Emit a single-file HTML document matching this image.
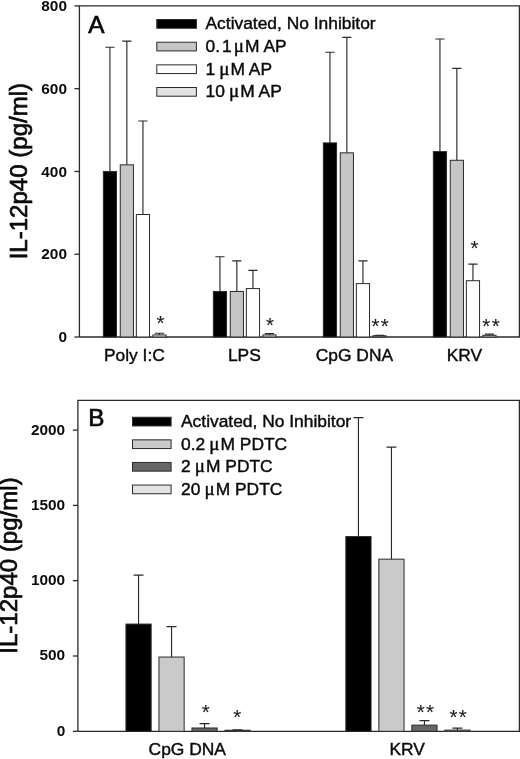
<!DOCTYPE html>
<html><head><meta charset="utf-8"><title>IL-12p40</title>
<style>html,body{margin:0;padding:0;background:#fff}svg{display:block;will-change:transform;transform:translateZ(0)}text{font-family:"Liberation Sans",sans-serif;fill:#0a0a0a;stroke:#0a0a0a;stroke-width:.42px}.yl{stroke-width:.7px}.st{stroke-width:.1px;fill:#1a1a1a}.b{font-weight:bold;stroke:none}.mu{font-family:"Liberation Serif",serif}</style>
</head><body>
<svg width="520" height="759" viewBox="0 0 520 759">
<rect width="520" height="759" fill="#fff"/>
<g stroke="#2a2a2a" stroke-width="1.3" fill="none">
<path d="M79.4 337.0V5.9H519.4V337.0"/>
<path d="M79.4 337.0H520.0"/>
<path d="M74.4 337.00H79.4"/>
<path d="M74.4 254.22H79.4"/>
<path d="M74.4 171.45H79.4"/>
<path d="M74.4 88.67H79.4"/>
<path d="M74.4 5.90H79.4"/>
</g>
<text class="b" x="67" y="342.20" font-size="15.4" text-anchor="end">0</text>
<text class="b" x="67" y="259.43" font-size="15.4" text-anchor="end">200</text>
<text class="b" x="67" y="176.65" font-size="15.4" text-anchor="end">400</text>
<text class="b" x="67" y="93.87" font-size="15.4" text-anchor="end">600</text>
<text class="b" x="67" y="11.10" font-size="15.4" text-anchor="end">800</text>
<path d="M109.95 171.45V47.29M105.35 47.29H114.55" stroke="#2a2a2a" stroke-width="1.15" fill="none"/>
<rect x="103.35" y="171.45" width="13.2" height="165.55" fill="#000" stroke="#2a2a2a" stroke-width="1"/>
<path d="M126.85 164.83V41.08M122.25 41.08H131.45" stroke="#2a2a2a" stroke-width="1.15" fill="none"/>
<rect x="120.25" y="164.83" width="13.2" height="172.17" fill="#c6c6c6" stroke="#2a2a2a" stroke-width="1"/>
<path d="M142.95 214.49V120.96M138.35 120.96H147.55" stroke="#2a2a2a" stroke-width="1.15" fill="none"/>
<rect x="136.35" y="214.49" width="13.2" height="122.51" fill="#fff" stroke="#2a2a2a" stroke-width="1"/>
<path d="M159.45 334.93V333.28M154.85 333.28H164.05" stroke="#2a2a2a" stroke-width="1.15" fill="none"/>
<rect x="152.85" y="334.93" width="13.2" height="2.07" fill="#e2e2e2" stroke="#2a2a2a" stroke-width="1"/>
<text x="160.5" y="329.7" class="st" font-size="20.5" text-anchor="middle">*</text>
<text x="134.40" y="360.8" font-size="17.4" text-anchor="middle">Poly I:C</text>
<path d="M219.95 291.47V256.71M215.35 256.71H224.55" stroke="#2a2a2a" stroke-width="1.15" fill="none"/>
<rect x="213.35" y="291.47" width="13.2" height="45.53" fill="#000" stroke="#2a2a2a" stroke-width="1"/>
<path d="M236.85 291.47V260.85M232.25 260.85H241.45" stroke="#2a2a2a" stroke-width="1.15" fill="none"/>
<rect x="230.25" y="291.47" width="13.2" height="45.53" fill="#c6c6c6" stroke="#2a2a2a" stroke-width="1"/>
<path d="M252.95 288.58V270.37M248.35 270.37H257.55" stroke="#2a2a2a" stroke-width="1.15" fill="none"/>
<rect x="246.35" y="288.58" width="13.2" height="48.42" fill="#fff" stroke="#2a2a2a" stroke-width="1"/>
<path d="M269.45 334.93V333.69M264.85 333.69H274.05" stroke="#2a2a2a" stroke-width="1.15" fill="none"/>
<rect x="262.85" y="334.93" width="13.2" height="2.07" fill="#e2e2e2" stroke="#2a2a2a" stroke-width="1"/>
<text x="270" y="331.9" class="st" font-size="20.5" text-anchor="middle">*</text>
<text x="244.40" y="360.8" font-size="17.4" text-anchor="middle">LPS</text>
<path d="M329.95 142.89V52.25M325.35 52.25H334.55" stroke="#2a2a2a" stroke-width="1.15" fill="none"/>
<rect x="323.35" y="142.89" width="13.2" height="194.11" fill="#000" stroke="#2a2a2a" stroke-width="1"/>
<path d="M346.85 152.83V37.35M342.25 37.35H351.45" stroke="#2a2a2a" stroke-width="1.15" fill="none"/>
<rect x="340.25" y="152.83" width="13.2" height="184.17" fill="#c6c6c6" stroke="#2a2a2a" stroke-width="1"/>
<path d="M362.95 283.61V260.85M358.35 260.85H367.55" stroke="#2a2a2a" stroke-width="1.15" fill="none"/>
<rect x="356.35" y="283.61" width="13.2" height="53.39" fill="#fff" stroke="#2a2a2a" stroke-width="1"/>
<path d="M379.45 335.76V335.34M374.85 335.34H384.05" stroke="#2a2a2a" stroke-width="1.15" fill="none"/>
<rect x="372.85" y="335.76" width="13.2" height="1.24" fill="#e2e2e2" stroke="#2a2a2a" stroke-width="1"/>
<text x="380.84999999999997" y="333.2" class="st" font-size="20.5" text-anchor="middle" letter-spacing="1.3">**</text>
<text x="354.40" y="360.8" font-size="17.4" text-anchor="middle">CpG DNA</text>
<path d="M439.95 151.58V39.01M435.35 39.01H444.55" stroke="#2a2a2a" stroke-width="1.15" fill="none"/>
<rect x="433.35" y="151.58" width="13.2" height="185.42" fill="#000" stroke="#2a2a2a" stroke-width="1"/>
<path d="M456.85 160.28V68.40M452.25 68.40H461.45" stroke="#2a2a2a" stroke-width="1.15" fill="none"/>
<rect x="450.25" y="160.28" width="13.2" height="176.72" fill="#c6c6c6" stroke="#2a2a2a" stroke-width="1"/>
<path d="M472.95 280.71V264.16M468.35 264.16H477.55" stroke="#2a2a2a" stroke-width="1.15" fill="none"/>
<rect x="466.35" y="280.71" width="13.2" height="56.29" fill="#fff" stroke="#2a2a2a" stroke-width="1"/>
<text x="474.6" y="255.39999999999998" class="st" font-size="20.5" text-anchor="middle">*</text>
<path d="M489.45 335.34V334.10M484.85 334.10H494.05" stroke="#2a2a2a" stroke-width="1.15" fill="none"/>
<rect x="482.85" y="335.34" width="13.2" height="1.66" fill="#e2e2e2" stroke="#2a2a2a" stroke-width="1"/>
<text x="491.65" y="333.09999999999997" class="st" font-size="20.5" text-anchor="middle" letter-spacing="1.3">**</text>
<text x="464.40" y="360.8" font-size="17.4" text-anchor="middle">KRV</text>
<text class="yl" x="88.3" y="32.6" font-size="24.3">A</text>
<rect x="156.8" y="19.55" width="39.6" height="8.7" fill="#000" stroke="#2a2a2a" stroke-width="1"/>
<text x="205.5" y="29.20" font-size="17.4">Activated, No Inhibitor</text>
<rect x="156.8" y="42.20" width="39.6" height="8.7" fill="#c6c6c6" stroke="#2a2a2a" stroke-width="1"/>
<text x="205.5" y="51.95" font-size="17.4">0.<tspan dx="2">1</tspan><tspan dx="-2"> </tspan><tspan class="mu" font-size="19" dx="-0.8">μ</tspan><tspan dx="1.1">M</tspan> AP</text>
<rect x="156.8" y="64.85" width="39.6" height="8.7" fill="#fff" stroke="#2a2a2a" stroke-width="1"/>
<text x="205.5" y="74.70" font-size="17.4">1 <tspan class="mu" font-size="19" dx="-0.8">μ</tspan><tspan dx="1.1">M</tspan> AP</text>
<rect x="156.8" y="87.50" width="39.6" height="8.7" fill="#e2e2e2" stroke="#2a2a2a" stroke-width="1"/>
<text x="205.5" y="97.45" font-size="17.4">10 <tspan class="mu" font-size="19" dx="-0.8">μ</tspan><tspan dx="1.1">M</tspan> AP</text>
<text class="yl" transform="translate(27 259.35) rotate(-90)" font-size="24.05">IL-12p40 (pg/ml)</text>
<g stroke="#2a2a2a" stroke-width="1.3" fill="none">
<path d="M77.9 731.3V400.4H519.4V731.3"/>
<path d="M77.9 731.3H520.0"/>
<path d="M72.9 731.30H77.9"/>
<path d="M72.9 656.00H77.9"/>
<path d="M72.9 580.70H77.9"/>
<path d="M72.9 505.40H77.9"/>
<path d="M72.9 430.10H77.9"/>
</g>
<text class="b" x="65.2" y="735.70" font-size="15.4" text-anchor="end">0</text>
<text class="b" x="65.2" y="660.40" font-size="15.4" text-anchor="end">500</text>
<text class="b" x="65.2" y="585.10" font-size="15.4" text-anchor="end">1000</text>
<text class="b" x="65.2" y="509.80" font-size="15.4" text-anchor="end">1500</text>
<text class="b" x="65.2" y="434.50" font-size="15.4" text-anchor="end">2000</text>
<path d="M138.55 624.07V575.13M133.55 575.13H143.55" stroke="#2a2a2a" stroke-width="1.15" fill="none"/>
<rect x="125.95" y="624.07" width="25.2" height="107.23" fill="#000" stroke="#2a2a2a" stroke-width="1"/>
<path d="M171.55 657.05V626.63M166.55 626.63H176.55" stroke="#2a2a2a" stroke-width="1.15" fill="none"/>
<rect x="158.95" y="657.05" width="25.2" height="74.25" fill="#cacaca" stroke="#2a2a2a" stroke-width="1"/>
<path d="M204.55 727.99V723.62M199.55 723.62H209.55" stroke="#2a2a2a" stroke-width="1.15" fill="none"/>
<rect x="191.95" y="727.99" width="25.2" height="3.31" fill="#666" stroke="#2a2a2a" stroke-width="1"/>
<text x="205.8" y="718.7" class="st" font-size="20.5" text-anchor="middle">*</text>
<path d="M237.55 730.25V729.94M232.55 729.94H242.55" stroke="#2a2a2a" stroke-width="1.15" fill="none"/>
<rect x="224.95" y="730.25" width="25.2" height="1.05" fill="#e4e4e4" stroke="#2a2a2a" stroke-width="1"/>
<text x="237.3" y="723.7" class="st" font-size="20.5" text-anchor="middle">*</text>
<text x="187.25" y="754.7" font-size="17.4" text-anchor="middle">CpG DNA</text>
<path d="M358.45 536.57V417.60M353.45 417.60H363.45" stroke="#2a2a2a" stroke-width="1.15" fill="none"/>
<rect x="345.85" y="536.57" width="25.2" height="194.73" fill="#000" stroke="#2a2a2a" stroke-width="1"/>
<path d="M391.45 559.16V447.12M386.45 447.12H396.45" stroke="#2a2a2a" stroke-width="1.15" fill="none"/>
<rect x="378.85" y="559.16" width="25.2" height="172.14" fill="#cacaca" stroke="#2a2a2a" stroke-width="1"/>
<path d="M424.45 725.13V720.61M419.45 720.61H429.45" stroke="#2a2a2a" stroke-width="1.15" fill="none"/>
<rect x="411.85" y="725.13" width="25.2" height="6.17" fill="#666" stroke="#2a2a2a" stroke-width="1"/>
<text x="425.95" y="718.7" class="st" font-size="20.5" text-anchor="middle" letter-spacing="1.3">**</text>
<path d="M457.45 730.10V728.14M452.45 728.14H462.45" stroke="#2a2a2a" stroke-width="1.15" fill="none"/>
<rect x="444.85" y="730.10" width="25.2" height="1.20" fill="#e4e4e4" stroke="#2a2a2a" stroke-width="1"/>
<text x="458.84999999999997" y="724.3000000000001" class="st" font-size="20.5" text-anchor="middle" letter-spacing="1.3">**</text>
<text x="407.15" y="754.7" font-size="17.4" text-anchor="middle">KRV</text>
<text class="yl" x="88.3" y="425.9" font-size="24.3">B</text>
<rect x="132.5" y="417.25" width="38.6" height="8.7" fill="#000" stroke="#2a2a2a" stroke-width="1"/>
<text x="181" y="426.90" font-size="17.4">Activated, No Inhibitor</text>
<rect x="132.5" y="439.85" width="38.6" height="8.7" fill="#cacaca" stroke="#2a2a2a" stroke-width="1"/>
<text x="181" y="449.60" font-size="17.4">0.2 <tspan class="mu" font-size="19" dx="-0.8">μ</tspan><tspan dx="1.1">M</tspan> PDTC</text>
<rect x="132.5" y="462.45" width="38.6" height="8.7" fill="#666" stroke="#2a2a2a" stroke-width="1"/>
<text x="181" y="472.30" font-size="17.4">2 <tspan class="mu" font-size="19" dx="-0.8">μ</tspan><tspan dx="1.1">M</tspan> PDTC</text>
<rect x="132.5" y="485.05" width="38.6" height="8.7" fill="#e4e4e4" stroke="#2a2a2a" stroke-width="1"/>
<text x="181" y="495.00" font-size="17.4">20 <tspan class="mu" font-size="19" dx="-0.8">μ</tspan><tspan dx="1.1">M</tspan> PDTC</text>
<text class="yl" transform="translate(17.3 653.75) rotate(-90)" font-size="24.05">IL-12p40 (pg/ml)</text>
</svg></body></html>
